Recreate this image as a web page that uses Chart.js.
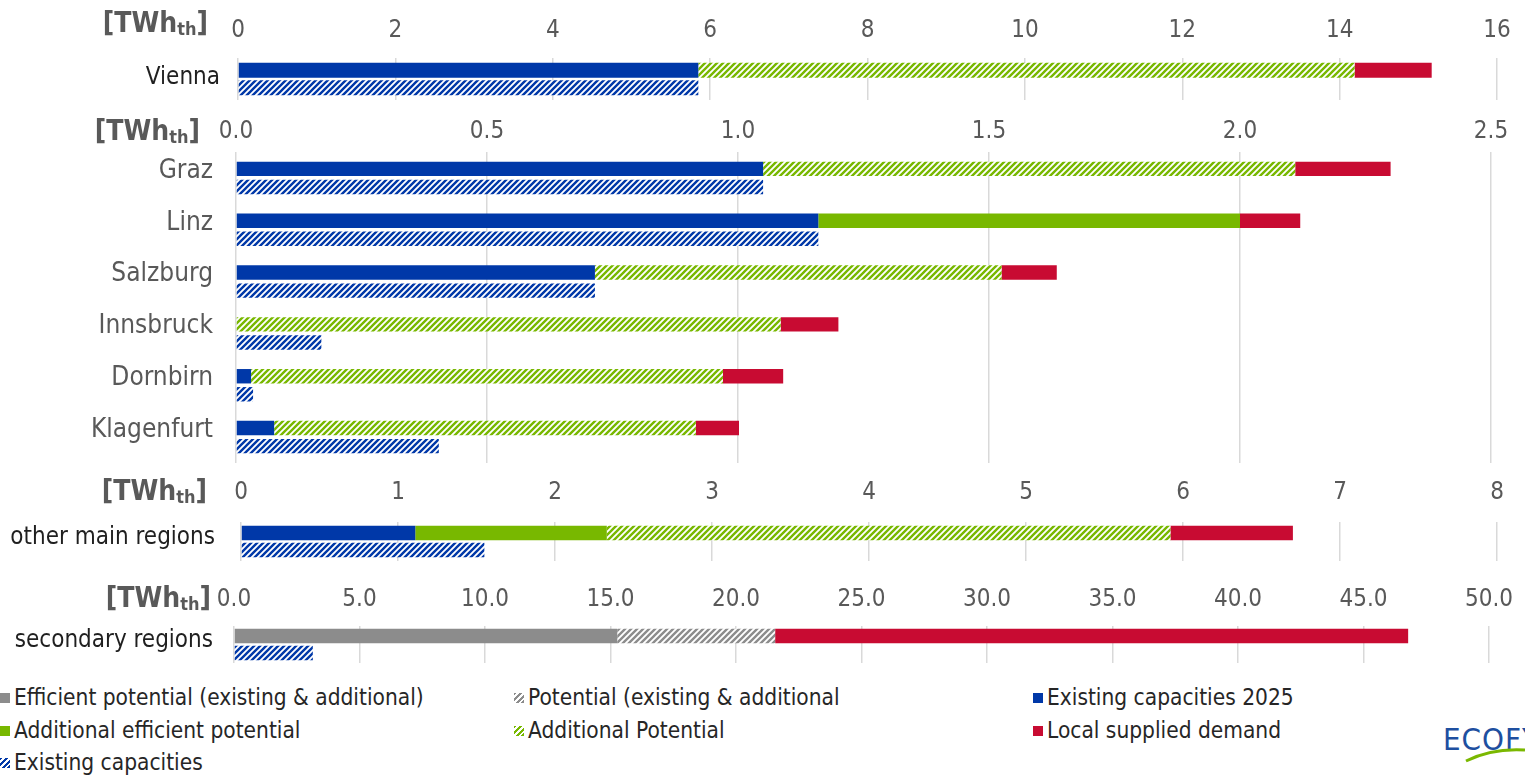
<!DOCTYPE html>
<html>
<head>
<meta charset="utf-8">
<script src="https://cdn.jsdelivr.net/npm/chart.js@4.4.0/dist/chart.umd.min.js"></script>
<style>
  body { margin:0; background:#fff; width:1525px; height:775px; overflow:hidden; position:relative;
         font-family:'DejaVu Sans Condensed','DejaVu Sans',sans-serif; }
  .panel { position:absolute; left:0; }
  .unit { position:absolute; font-weight:bold; color:#595959; font-size:28px; text-align:right; width:220px; line-height:30px; }
  .unit sub { font-size:18px; vertical-align:-3px; }
  .leg { position:absolute; font-size:22.5px; color:#262626; white-space:nowrap; line-height:24px; }
  .leg i { display:inline-block; width:10px; height:10px; margin-right:4px; vertical-align:2px; }
</style>
</head>
<body>
<div class="panel" style="top:0px"><canvas id="vienna" width="1525" height="104"></canvas></div>
<div class="panel" style="top:110px"><canvas id="cities" width="1525" height="358"></canvas></div>
<div class="panel" style="top:470px"><canvas id="other" width="1525" height="95"></canvas></div>
<div class="panel" style="top:570px"><canvas id="secondary" width="1525" height="97"></canvas></div>

<div class="unit" style="left:-12px;top:8px">[TWh<sub>th</sub>]</div>
<div class="unit" style="left:-20px;top:116px">[TWh<sub>th</sub>]</div>
<div class="unit" style="left:-13px;top:476px">[TWh<sub>th</sub>]</div>
<div class="unit" style="left:-9px;top:583px">[TWh<sub>th</sub>]</div>

<div class="leg" style="left:0px;top:685px"><i style="background:#8c8c8c"></i>Efficient potential (existing &amp; additional)</div>
<div class="leg" style="left:0px;top:718px"><i style="background:#78b800"></i>Additional efficient potential</div>
<div class="leg" style="left:0px;top:750px"><i style="background:repeating-linear-gradient(135deg,#0038a8 0 2px,#fff 2px 4px)"></i>Existing capacities</div>
<div class="leg" style="left:514px;top:685px"><i style="background:repeating-linear-gradient(135deg,#8c8c8c 0 2px,#fff 2px 4px)"></i>Potential (existing &amp; additional</div>
<div class="leg" style="left:514px;top:718px"><i style="background:repeating-linear-gradient(135deg,#78b800 0 2px,#fff 2px 4px)"></i>Additional Potential</div>
<div class="leg" style="left:1033px;top:685px"><i style="background:#0038a8"></i>Existing capacities 2025</div>
<div class="leg" style="left:1033px;top:718px"><i style="background:#c80b32"></i>Local supplied demand</div>

<div style="position:absolute;left:1443px;top:721px;font-size:31px;color:#1e4fa0;letter-spacing:1px;white-space:nowrap">ECOFYS</div>
<svg style="position:absolute;left:1462px;top:744px" width="63" height="20"><path d="M4 17 Q 30 4 63 6" stroke="#7ab800" stroke-width="3" fill="none"/></svg>

<script>
// values (TWh_th), stacked segment lengths
const viennaLabels = ['Vienna'];
const viennaTicks = [0, 2, 4, 6, 8, 10, 12, 14, 16];
const viennaExisting2025 = [5.85];
const viennaAddPotential = [8.34];
const viennaDemand = [0.98];
const viennaExisting = [5.85];

const cityLabels = ['Graz', 'Linz', 'Salzburg', 'Innsbruck', 'Dornbirn', 'Klagenfurt'];
const cityTicks = [0, 0.5, 1, 1.5, 2, 2.5];
const cityExisting2025 = [1.05, 1.16, 0.715, 0, 0.03, 0.076];
const cityAddEfficient = [0, 0.84, 0, 0, 0, 0];
const cityAddPotential = [1.06, 0, 0.81, 1.085, 0.94, 0.84];
const cityDemand = [0.19, 0.12, 0.11, 0.115, 0.12, 0.086];
const cityExisting = [1.05, 1.16, 0.715, 0.17, 0.034, 0.404];

const otherLabels = ['other main regions'];
const otherTicks = [0, 1, 2, 3, 4, 5, 6, 7, 8];
const otherExisting2025 = [1.11];
const otherAddEfficient = [1.22];
const otherAddPotential = [3.59];
const otherDemand = [0.78];
const otherExisting = [1.55];

const secLabels = ['secondary regions'];
const secTicks = [0, 5, 10, 15, 20, 25, 30, 35, 40, 45, 50];
const secEffPotential = [15.27];
const secPotential = [6.29];
const secDemand = [25.22];
const secExisting = [3.14];

const FONT = '"DejaVu Sans Condensed", "DejaVu Sans", sans-serif';
const BLUE = '#0038a8', GREEN = '#78b800', RED = '#c80b32', GRAY = '#8c8c8c';

function hatch(color) {
	const c = document.createElement('canvas');
	c.width = 6; c.height = 6;
	const g = c.getContext('2d');
	g.fillStyle = '#fff';
	g.fillRect(0, 0, 6, 6);
	g.strokeStyle = color;
	g.lineWidth = 2.4;
	g.beginPath();
	g.moveTo(-1, 7); g.lineTo(7, -1);
	g.moveTo(-4, 4); g.lineTo(4, -4);
	g.moveTo(2, 10); g.lineTo(10, 2);
	g.stroke();
	return g.createPattern(c, 'repeat');
}

function ds(label, data, color, stack) {
	return { label, data, backgroundColor: color, stack: stack || 'main', borderWidth: 0 };
}

function panel(id, labels, datasets, ticks, dec, lay) {
	return new Chart(document.getElementById(id), {
		type: 'bar',
		data: { labels, datasets },
		options: {
			indexAxis: 'y',
			responsive: false,
			animation: false,
			layout: { padding: { top: 0, left: 0, right: lay.right, bottom: lay.bottom } },
			datasets: { bar: { categoryPercentage: lay.cat, barPercentage: lay.bar } },
			plugins: { legend: { display: false }, tooltip: { enabled: false } },
			scales: {
				x: {
					position: 'top',
					stacked: true,
					min: ticks[0],
					max: ticks[ticks.length - 1],
					afterBuildTicks: s => { s.ticks = ticks.map(v => ({ value: v })); },
					afterFit: s => { s.height = lay.axisH; },
					grid: { color: '#d9d9d9', drawTicks: false, lineWidth: 1.5 },
					border: { display: false },
					ticks: {
						padding: lay.tickPad,
						color: '#595959',
						font: { family: FONT, size: 24 },
						callback: v => Number(v).toFixed(dec)
					}
				},
				y: {
					stacked: true,
					// keep the label padding from eating chart height
					afterFit: s => { s.width = lay.left; s.paddingTop = 0; s.paddingBottom = 0; },
					grid: { display: false },
					border: { display: false },
					ticks: {
						padding: lay.labPad,
						labelOffset: lay.labOff,
						color: lay.labColor,
						font: { family: FONT, size: lay.labSize }
					}
				}
			}
		}
	});
}

panel('vienna', viennaLabels, [
	ds('Existing capacities 2025', viennaExisting2025, BLUE),
	ds('Additional Potential', viennaAddPotential, hatch(GREEN)),
	ds('Local supplied demand', viennaDemand, RED),
	ds('Existing capacities', viennaExisting, hatch(BLUE), 'exist')
], viennaTicks, 0, { left: 238, right: 28, bottom: 4, axisH: 58, tickPad: 13, labPad: 10, labOff: -1, labColor: '#1f1f1f', labSize: 24, cat: 0.83, bar: 0.86 });

panel('cities', cityLabels, [
	ds('Existing capacities 2025', cityExisting2025, BLUE),
	ds('Additional efficient potential', cityAddEfficient, GREEN),
	ds('Additional Potential', cityAddPotential, hatch(GREEN)),
	ds('Local supplied demand', cityDemand, RED),
	ds('Existing capacities', cityExisting, hatch(BLUE), 'exist')
], cityTicks, 1, { left: 236, right: 34, bottom: 5, axisH: 42, tickPad: 6, labPad: 15, labOff: -7, labColor: '#595959', labSize: 26, cat: 0.695, bar: 0.8 });

panel('other', otherLabels, [
	ds('Existing capacities 2025', otherExisting2025, BLUE),
	ds('Additional efficient potential', otherAddEfficient, GREEN),
	ds('Additional Potential', otherAddPotential, hatch(GREEN)),
	ds('Local supplied demand', otherDemand, RED),
	ds('Existing capacities', otherExisting, hatch(BLUE), 'exist')
], otherTicks, 0, { left: 241, right: 28, bottom: 4, axisH: 52, tickPad: 15, labPad: 18, labOff: -4, labColor: '#1f1f1f', labSize: 24, cat: 0.87, bar: 0.85 });

panel('secondary', secLabels, [
	ds('Efficient potential (existing & additional)', secEffPotential, GRAY),
	ds('Potential (existing & additional', secPotential, hatch(GRAY)),
	ds('Local supplied demand', secDemand, RED),
	ds('Existing capacities', secExisting, hatch(BLUE), 'exist')
], secTicks, 1, { left: 234, right: 34, bottom: 4, axisH: 56, tickPad: 12, labPad: 13, labOff: -4, labColor: '#1f1f1f', labSize: 24, cat: 0.92, bar: 0.85 });
</script>
</body>
</html>
